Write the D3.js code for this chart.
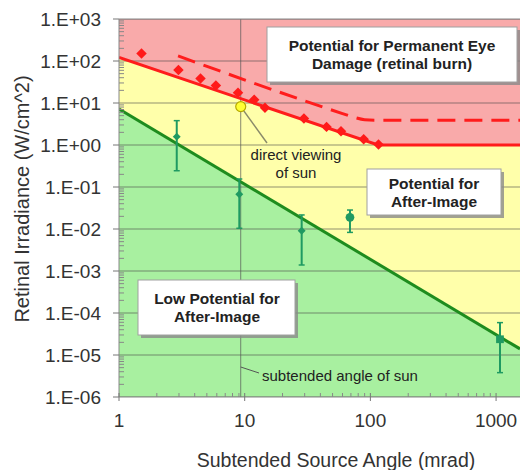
<!DOCTYPE html>
<html><head><meta charset="utf-8">
<script src="https://cdn.jsdelivr.net/npm/d3@7"></script>
<style>body{margin:0;background:#fff;} svg{display:block;font-family:Arial,"Liberation Sans",sans-serif;}</style>
</head><body>
<svg id="c" width="520" height="470"></svg>
<script>
// ---- data ----
const xTickValues = [1, 10, 100, 1000];
const xTickLabels = ["1", "10", "100", "1000"];
const yTickValues = [1e3, 1e2, 1e1, 1e0, 1e-1, 1e-2, 1e-3, 1e-4, 1e-5, 1e-6];
const yTickLabels = ["1.E+03", "1.E+02", "1.E+01", "1.E+00", "1.E-01", "1.E-02", "1.E-03", "1.E-04", "1.E-05", "1.E-06"];

// red solid threshold (burn threshold)
const redLineX = [1, 115, 1550];
const redLineY = [122, 1.0, 1.0];
// red dashed threshold
const dashLineX = [2.95, 60, 75, 90, 110, 1550];
const dashLineY = [132, 5.6, 4.5, 4.0, 3.9, 3.9];
// green after-image threshold
const greenLineX = [1, 1550];
const greenLineY = [7.2, 1.4e-5];

// red diamonds (burn data)
const burnX = [1.51, 2.97, 4.45, 5.9, 8.85, 11.9, 14.5, 29.6, 44.8, 58.4, 88.5, 116];
const burnY = [151, 61, 38.3, 26.1, 17.5, 12.0, 7.7, 4.3, 2.7, 2.13, 1.37, 1.03];

// green after-image measurements with error bars
const aiX = [2.88, 9.06, 28.4, 68.8, 1074];
const aiY = [1.58, 0.067, 0.0091, 0.019, 2.37e-5];
const aiLo = [0.244, 0.0104, 0.00139, 0.0083, 3.8e-6];
const aiHi = [3.8, 0.155, 0.0216, 0.0283, 5.9e-5];
const aiShape = ["diamond", "diamond", "diamond", "circle", "square"];

// sun
const sunAngle = 9.3;
const sunIrr = 8.2;

// ---- drawing ----
const svg = d3.select("#c");
const L = 119, R = 520, T = 19, B = 397;
const x = d3.scaleLog().domain([1, 1550]).range([L, R]);
const y = d3.scaleLog().domain([1e-6, 1e3]).range([B, T]);

svg.append("clipPath").attr("id", "clip").append("rect")
  .attr("x", L).attr("y", T).attr("width", R - L).attr("height", B - T);
const plot = svg.append("g").attr("clip-path", "url(#clip)");

// backgrounds
plot.append("rect").attr("x", L).attr("y", T).attr("width", R - L).attr("height", B - T).attr("fill", "#f9aaaa");
const redPts = redLineX.map((d, i) => [x(d), y(redLineY[i])]);
const yellowPoly = [[x(1), y(1e-6)]].concat(redPts).concat([[x(1550), y(1e-6)]]);
plot.append("path").attr("d", d3.line()(yellowPoly) + "Z").attr("fill", "#ffffaa");
const greenPts = greenLineX.map((d, i) => [x(d), y(greenLineY[i])]);
const greenPoly = [[x(1), y(1e-6)]].concat(greenPts).concat([[x(1550), y(1e-6)]]);
plot.append("path").attr("d", d3.line()(greenPoly) + "Z").attr("fill", "#a8f0a0");

// horizontal gridlines
plot.selectAll(".grid").data(yTickValues).enter().append("line")
  .attr("x1", L).attr("x2", R).attr("y1", d => y(d)).attr("y2", d => y(d))
  .attr("stroke", "#4a4a4a").attr("stroke-opacity", 0.6).attr("stroke-width", 1.2);

// sun angle vertical line
plot.append("line").attr("x1", x(sunAngle)).attr("x2", x(sunAngle)).attr("y1", T).attr("y2", B)
  .attr("stroke", "#555").attr("stroke-opacity", 0.7).attr("stroke-width", 1);

// lines
const lineGen = d3.line().x(d => x(d[0])).y(d => y(d[1]));
plot.append("path").datum(dashLineX.map((d, i) => [d, dashLineY[i]]))
  .attr("d", lineGen.curve(d3.curveMonotoneX)).attr("fill", "none").attr("stroke", "#ff1c1c")
  .attr("stroke-width", 3).attr("stroke-dasharray", "18,9");
plot.append("path").datum(redLineX.map((d, i) => [d, redLineY[i]]))
  .attr("d", d3.line().x(d => x(d[0])).y(d => y(d[1]))).attr("fill", "none").attr("stroke", "#ff1c1c").attr("stroke-width", 3);
plot.append("path").datum(greenLineX.map((d, i) => [d, greenLineY[i]]))
  .attr("d", d3.line().x(d => x(d[0])).y(d => y(d[1]))).attr("fill", "none").attr("stroke", "#1e8c1e").attr("stroke-width", 3);

// red diamonds
plot.selectAll(".burn").data(burnX).enter().append("path")
  .attr("transform", (d, i) => `translate(${x(d)},${y(burnY[i])})`)
  .attr("d", d3.symbol().type(d3.symbolDiamond2).size(70))
  .attr("fill", "#ff1a1a");

// error bars
const gc = "#1f9a62";
aiX.forEach((d, i) => {
  const cx = x(d);
  plot.append("line").attr("x1", cx).attr("x2", cx).attr("y1", y(aiHi[i])).attr("y2", y(aiLo[i]))
    .attr("stroke", gc).attr("stroke-width", 2);
  [aiHi[i], aiLo[i]].forEach(v => {
    plot.append("line").attr("x1", cx - 3).attr("x2", cx + 3).attr("y1", y(v)).attr("y2", y(v))
      .attr("stroke", gc).attr("stroke-width", 1.5);
  });
  const t = aiShape[i] === "circle" ? d3.symbolCircle : aiShape[i] === "square" ? d3.symbolSquare : d3.symbolDiamond2;
  const s = aiShape[i] === "diamond" ? 40 : 60;
  plot.append("path").attr("transform", `translate(${cx},${y(aiY[i])})`)
    .attr("d", d3.symbol().type(t).size(s)).attr("fill", gc);
});

// sun point and leader
plot.append("line").attr("x1", x(sunAngle)).attr("y1", y(sunIrr)).attr("x2", 267).attr("y2", 143)
  .attr("stroke", "#8a8a6a").attr("stroke-width", 1.5);
plot.append("circle").attr("cx", x(sunAngle)).attr("cy", y(sunIrr)).attr("r", 5)
  .attr("fill", "#ffff33").attr("stroke", "#b5a800").attr("stroke-width", 1.2);
plot.append("line").attr("x1", x(sunAngle)).attr("y1", 367).attr("x2", 259).attr("y2", 373)
  .attr("stroke", "#555").attr("stroke-width", 1);

// annotation texts
const ann = svg.append("g").attr("font-size", 15).attr("fill", "#222");
ann.append("text").attr("x", 296).attr("y", 160).attr("text-anchor", "middle").text("direct viewing");
ann.append("text").attr("x", 296).attr("y", 178).attr("text-anchor", "middle").text("of sun");
ann.append("text").attr("x", 262).attr("y", 381).text("subtended angle of sun");

// boxes
function box(x0, y0, w, h, lines, cx, ys) {
  svg.append("rect").attr("x", x0 + 3).attr("y", y0 + 3).attr("width", w).attr("height", h).attr("fill", "#8a8a8a").attr("opacity", 0.8);
  svg.append("rect").attr("x", x0).attr("y", y0).attr("width", w).attr("height", h).attr("fill", "#fff").attr("stroke", "#a0a0a0").attr("stroke-width", 1);
  lines.forEach((t, i) => svg.append("text").attr("x", cx).attr("y", ys[i]).attr("text-anchor", "middle")
    .attr("font-size", 15.5).attr("font-weight", "bold").attr("fill", "#222").text(t));
}
box(267, 27, 250, 55, ["Potential for Permanent Eye", "Damage (retinal burn)"], 392, [51, 69]);
box(367, 169, 134, 46, ["Potential for", "After-Image"], 434, [189, 207]);
box(138, 280, 157, 55, ["Low Potential for", "After-Image"], 217, [304, 322]);

// axes lines
svg.append("line").attr("x1", L).attr("x2", R).attr("y1", T).attr("y2", T).attr("stroke", "#888");
svg.append("line").attr("x1", L).attr("x2", L).attr("y1", T).attr("y2", B).attr("stroke", "#888");
svg.append("line").attr("x1", L).attr("x2", R).attr("y1", B).attr("y2", B).attr("stroke", "#888");

// minor ticks
const yMinor = [];
for (let e = -6; e < 3; e++) for (let m = 2; m <= 9; m++) yMinor.push(m * Math.pow(10, e));
svg.selectAll(".ym").data(yMinor).enter().append("line")
  .attr("x1", L).attr("x2", L + 5).attr("y1", d => y(d)).attr("y2", d => y(d)).attr("stroke", "#888");
const xMinor = [];
for (let e = 0; e < 4; e++) for (let m = 2; m <= 9; m++) { const v = m * Math.pow(10, e); if (v < 1550) xMinor.push(v); }
svg.selectAll(".xm").data(xMinor).enter().append("line")
  .attr("x1", d => x(d)).attr("x2", d => x(d)).attr("y1", B).attr("y2", B - 4).attr("stroke", "#888");

// major ticks + labels
svg.selectAll(".yt").data(yTickValues).enter().append("line")
  .attr("x1", L - 6).attr("x2", L).attr("y1", d => y(d)).attr("y2", d => y(d)).attr("stroke", "#777");
svg.selectAll(".yl").data(yTickValues).enter().append("text")
  .attr("x", 101).attr("y", d => y(d) + 6.5).attr("text-anchor", "end").attr("font-size", 19).attr("fill", "#333")
  .text((d, i) => yTickLabels[i]);
svg.selectAll(".xt").data(xTickValues).enter().append("line")
  .attr("x1", d => x(d)).attr("x2", d => x(d)).attr("y1", B - 4).attr("y2", B + 4).attr("stroke", "#777");
svg.selectAll(".xl").data(xTickValues).enter().append("text")
  .attr("x", d => x(d)).attr("y", 427).attr("text-anchor", "middle").attr("font-size", 19).attr("fill", "#333")
  .text((d, i) => xTickLabels[i]);

// axis titles
svg.append("text").attr("x", 336).attr("y", 467).attr("text-anchor", "middle").attr("font-size", 19.5).attr("fill", "#333")
  .text("Subtended Source Angle (mrad)");
svg.append("text").attr("transform", "translate(29,199) rotate(-90)").attr("text-anchor", "middle").attr("font-size", 20).attr("fill", "#333")
  .text("Retinal Irradiance (W/cm^2)");
</script>
</body></html>
